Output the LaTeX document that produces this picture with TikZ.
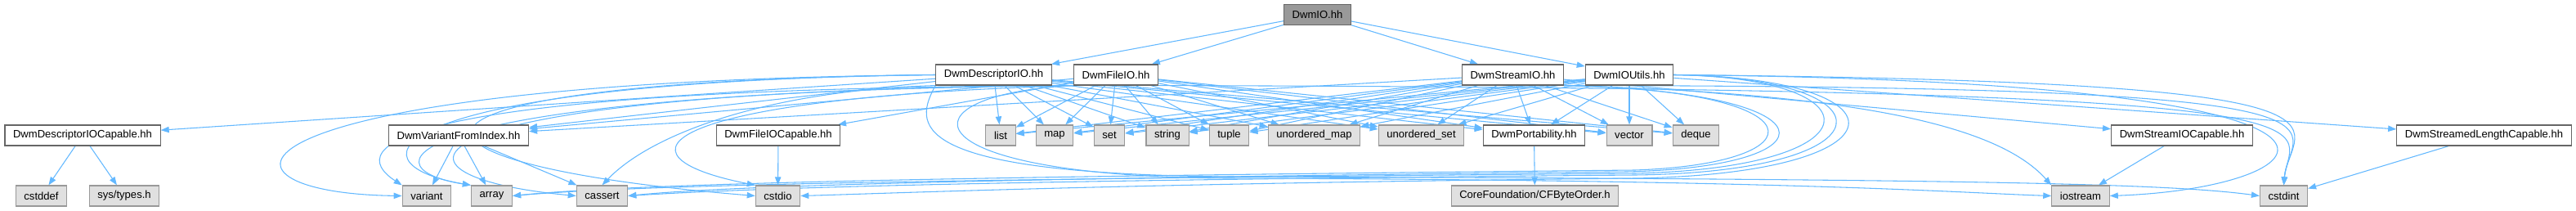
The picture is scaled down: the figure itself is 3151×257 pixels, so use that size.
\documentclass[tikz,border=0pt]{standalone}
\usepackage{fontspec}
\setmainfont{Liberation Sans}
\usepackage{tikz}
\usetikzlibrary{arrows.meta,backgrounds}
\definecolor{depblue}{HTML}{63B8FF}
\definecolor{boxline}{HTML}{666666}
\definecolor{sysfill}{HTML}{E0E0E0}
\definecolor{sysline}{HTML}{999999}
\definecolor{rootfill}{HTML}{999999}
\tikzset{
  hdr/.style={draw=boxline,fill=white,line width=0.9pt,minimum height=18.75pt,inner xsep=7.6pt,inner ysep=0pt,font=\fontsize{9.8}{11}\selectfont},
  sys/.style={hdr,draw=sysline,fill=sysfill},
  root/.style={hdr,fill=rootfill},
  dep/.style={->,draw=depblue,line width=0.8pt},
}

\begin{document}
\begin{tikzpicture}[x=0.75pt,y=-0.75pt,>={Triangle[length=7.5pt,width=5.5pt]}]
  \useasboundingbox (0,0) rectangle (3151,257);
  \node[root] (dwmio) at (1611.5,18) {DwmIO.hh};
  \node[hdr] (descio) at (1215.5,91.5) {DwmDescriptorIO.hh};
  \node[hdr] (fileio) at (1365,91.5) {DwmFileIO.hh};
  \node[hdr] (streamio) at (1850.5,91.5) {DwmStreamIO.hh};
  \node[hdr] (ioutils) at (1993,91.5) {DwmIOUtils.hh};
  \node[hdr] (desccap) at (101,165.5) {DwmDescriptorIOCapable.hh};
  \node[hdr] (varidx) at (561,165.5) {DwmVariantFromIndex.hh};
  \node[hdr] (filecap) at (952,165.5) {DwmFileIOCapable.hh};
  \node[sys] (list) at (1224,165.5) {list};
  \node[sys] (map) at (1290,165.5) {map};
  \node[sys] (set) at (1357,165.5) {set};
  \node[sys] (string) at (1428,165.5) {string};
  \node[sys] (tuple) at (1503.5,165.5) {tuple};
  \node[sys] (umap) at (1607.5,165.5) {unordered\_map};
  \node[sys] (uset) at (1738.5,165.5) {unordered\_set};
  \node[hdr] (port) at (1876.5,165.5) {DwmPortability.hh};
  \node[sys] (vector) at (1993,165.5) {vector};
  \node[sys] (deque) at (2074.5,165.5) {deque};
  \node[hdr] (streamcap) at (2669,165.5) {DwmStreamIOCapable.hh};
  \node[hdr] (lencap) at (3038.5,165.5) {DwmStreamedLengthCapable.hh};
  \node[sys] (cstddef) at (50.5,239.5) {cstddef};
  \node[sys] (systypes) at (152,239.5) {sys/types.h};
  \node[sys] (variant) at (522,239.5) {variant};
  \node[sys] (array) at (601.5,239.5) {array};
  \node[sys] (cassert) at (736.5,239.5) {cassert};
  \node[sys] (cstdio) at (951.5,239.5) {cstdio};
  \node[sys] (cfbyte) at (1877.5,239.5) {CoreFoundation/CFByteOrder.h};
  \node[sys] (iostream) at (2545,239.5) {iostream};
  \node[sys] (cstdint) at (2793.5,239.5) {cstdint};

  \begin{scope}[on background layer]
    \foreach \dst in {descio,fileio,streamio,ioutils}
      \draw[dep] (dwmio) -- (\dst);
    \foreach \src in {descio,fileio,streamio,ioutils}
      \foreach \dst in {list,map,set,string,tuple,umap,uset,port,vector,deque}
        \draw[dep] (\src) -- (\dst);
    \foreach \src in {descio,fileio,streamio}
      \draw[dep] (\src) -- (varidx);
    \draw[dep] (descio) -- (desccap);
    \draw[dep] (fileio) -- (filecap);
    \draw[dep] (streamio) -- (streamcap);
    \draw[dep] (ioutils) -- (lencap);
    \draw[dep] (desccap) -- (cstddef);
    \draw[dep] (desccap) -- (systypes);
    \foreach \dst in {variant,array,cassert}
      \draw[dep] (varidx) -- (\dst);
    \draw[dep] (filecap) -- (cstdio);
    \draw[dep] (port) -- (cfbyte);
    \draw[dep] (streamcap) -- (iostream);
    \draw[dep] (lencap) -- (cstdint);
    % loops round the left
    \draw[dep] (descio.west) .. controls (250,100) and (230,236) .. (variant.west);
    \draw[dep] (fileio.south west) .. controls (470,108) and (420,180) .. (variant.north west);
    \draw[dep] (descio.west) .. controls (460,100) and (420,200) .. (array.north west);
    \draw[dep] (fileio.south west) .. controls (480,112) and (440,205) .. (array.north west);
    \draw[dep] (fileio.south west) .. controls (470,110) and (440,215) .. (cassert.west);
    \draw[dep] (descio.south west) .. controls (950,110) and (800,160) .. (cassert.north);
    \draw[dep] (fileio.south west) .. controls (800,120) and (740,190) .. (cstdio.north west);
    \draw[dep] (descio.west) .. controls (420,100) and (440,200) .. (cstdio.west);
    % along the bottom to the right
    \draw[dep] (descio.south west) .. controls (1120,150) and (1100,212) .. (1500,216)
      .. controls (2400,219) and (2650,224) .. (cstdint.west);
    \draw[dep] (fileio.south west) .. controls (1100,115) and (1100,215) .. (1500,218)
      .. controls (2200,220) and (2400,236) .. (iostream.west);
    % loops round the right, back along the bottom
    \draw[dep] (streamio.south east) .. controls (2230,110) and (2230,200) .. (2000,208)
      .. controls (1300,215) and (800,222) .. (array.east);
    \draw[dep] (ioutils.east) .. controls (2300,95) and (2300,205) .. (2000,212)
      .. controls (1300,218) and (800,224) .. (array.east);
    \draw[dep] (streamio.south east) .. controls (2250,112) and (2250,204) .. (1990,210)
      .. controls (1300,217) and (900,226) .. (cassert.east);
    \draw[dep] (ioutils.east) .. controls (2320,95) and (2320,210) .. (2000,214)
      .. controls (1300,220) and (950,228) .. (cassert.east);
    \draw[dep] (ioutils.east) .. controls (2340,95) and (2340,212) .. (2000,218)
      .. controls (1400,224) and (1100,236) .. (cstdio.east);
    % far right
    \draw[dep] (streamio.south east) .. controls (2300,115) and (2450,160) .. (iostream.north west);
    \draw[dep] (ioutils.east) .. controls (3000,100) and (2850,230) .. (iostream.east);
    \draw[dep] (fileio.south east) .. controls (2950,108) and (2800,150) .. (cstdint.north);
    \draw[dep] (streamio.south east) .. controls (2950,105) and (2800,150) .. (cstdint.north);
    \draw[dep] (ioutils.east) .. controls (2950,100) and (2800,150) .. (cstdint.north);
  \end{scope}
\end{tikzpicture}
\end{document}
